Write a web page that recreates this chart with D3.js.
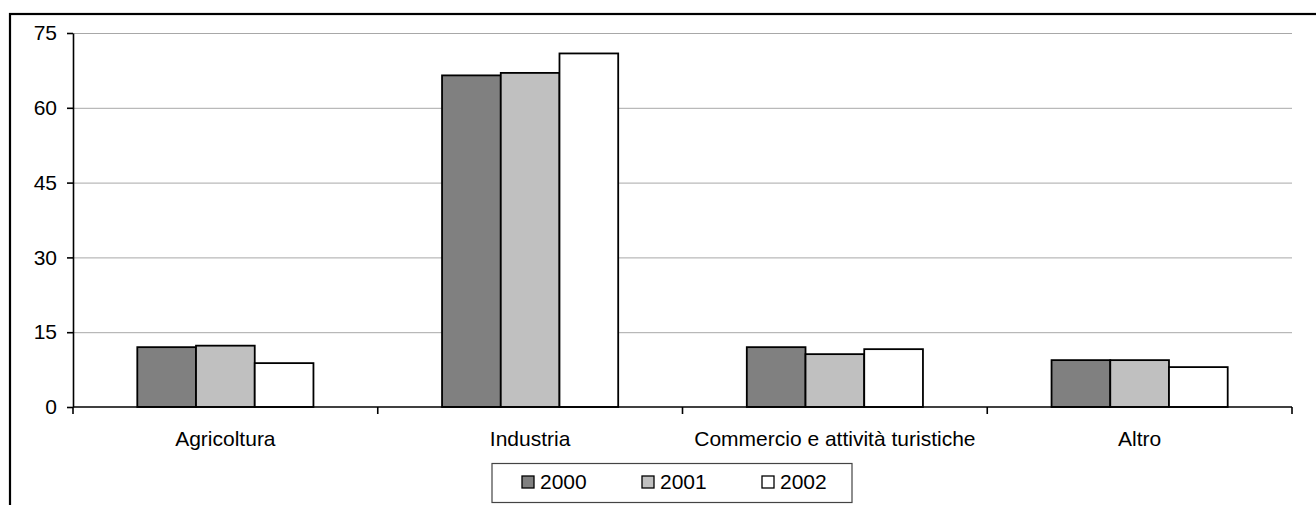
<!DOCTYPE html>
<html>
<head>
<meta charset="utf-8">
<script src="https://cdn.jsdelivr.net/npm/d3@7"></script>
<style>
    body { margin: 0; background: #ffffff; }
    svg  { display: block; font-family: "Liberation Sans", Arial, sans-serif; }
    .axis text { font-size: 21px; fill: #000000; }
    .axis path, .axis line { stroke: #000000; stroke-width: 1.6px; }
    .grid line { stroke: #a8a8a8; stroke-width: 1px; }
    .legendLabel { font-size: 21px; }
</style>
</head>
<body>
<div id="graph"></div>
<script>
//
// Data...
//
var categories = [ 'Agricoltura', 'Industria', 'Commercio e attività turistiche', 'Altro' ];
var years      = [ '2000', '2001', '2002' ];
var values2000 = [ 12.0, 66.5, 12.0, 9.4 ];
var values2001 = [ 12.3, 67.0, 10.6, 9.4 ];
var values2002 = [  8.8, 70.9, 11.6, 8.0 ];
var yTicks     = [ 0, 15, 30, 45, 60, 75 ];

var seriesValues = [ values2000, values2001, values2002 ];
var barColours   = [ '#808080', '#c0c0c0', '#ffffff' ];

//
// D3 Stuff...
//
var width  = 1316;
var height = 505;

var plot = { left: 73, right: 1292, top: 33, bottom: 407 };

var svg = d3.select ('div#graph')
            .append ('svg')
            .attr ('width', width)
            .attr ('height', height);

// outer frame, cut off at the right and bottom edge
svg.append ('rect')
   .attr ('x', 10)
   .attr ('y', 14)
   .attr ('width', 1400)
   .attr ('height', 600)
   .attr ('fill', 'none')
   .attr ('stroke', '#000000')
   .attr ('stroke-width', 2.2);

var xScale = d3.scaleBand ()
               .domain (categories)
               .range ([plot.left, plot.right])
               .padding (0);

var groupPad = 0.211 * xScale.bandwidth ();

var xInner = d3.scaleBand ()
               .domain (years)
               .range ([groupPad, xScale.bandwidth () - groupPad])
               .padding (0);

var yScale = d3.scaleLinear ()
               .domain ([0, 75])
               .range ([plot.bottom, plot.top]);

// gridlines
svg.append ('g')
   .attr ('class', 'grid')
   .selectAll ('line')
   .data (yTicks.filter (d => d > 0))
   .enter ()
   .append ('line')
   .attr ('x1', plot.left)
   .attr ('x2', plot.right)
   .attr ('y1', d => yScale (d) + 0.5)
   .attr ('y2', d => yScale (d) + 0.5);

// bars
for (var s = 0; s < years.length; s++)
{
    svg.append ('g')
       .selectAll ('rect')
       .data (seriesValues[s])
       .enter ()
       .append ('rect')
       .attr ('x', (d, i) => xScale (categories[i]) + xInner (years[s]))
       .attr ('y', d => yScale (d))
       .attr ('width', xInner.bandwidth ())
       .attr ('height', d => yScale (0) - yScale (d))
       .attr ('fill', barColours[s])
       .attr ('stroke', '#000000')
       .attr ('stroke-width', 1.8);
}

// Y axis
var yAxis = d3.axisLeft (yScale)
              .tickValues (yTicks)
              .tickSize (6)
              .tickPadding (10)
              .tickSizeOuter (0);

svg.append ('g')
   .attr ('class', 'y axis')
   .attr ('transform', 'translate(' + plot.left + ',0)')
   .call (yAxis);

// X axis: ticks sit on the category boundaries
var boundaries = categories.map (c => xScale (c)).concat ([plot.right]);

var xAxisG = svg.append ('g')
                .attr ('class', 'x axis');

xAxisG.append ('path')
      .attr ('d', 'M' + plot.left + ',' + yScale (0) + 'H' + plot.right);

xAxisG.selectAll ('line')
      .data (boundaries)
      .enter ()
      .append ('line')
      .attr ('x1', d => d)
      .attr ('x2', d => d)
      .attr ('y1', yScale (0))
      .attr ('y2', yScale (0) + 7);

xAxisG.selectAll ('text')
      .data (categories)
      .enter ()
      .append ('text')
      .attr ('x', d => xScale (d) + xScale.bandwidth () / 2)
      .attr ('y', 446)
      .style ('text-anchor', 'middle')
      .text (d => d);

//
// Legend...
//
var legend = svg.append ('g');

legend.append ('rect')
      .attr ('x', 492)
      .attr ('y', 463.5)
      .attr ('width', 360)
      .attr ('height', 39)
      .attr ('fill', '#ffffff')
      .attr ('stroke', '#444444')
      .attr ('stroke-width', 1.2);

for (var i = 0; i < years.length; i++)
{
    var lx = 540 + 120 * i;

    legend.append ('rect')
          .attr ('x', lx - 18)
          .attr ('y', 476)
          .attr ('width', 12)
          .attr ('height', 12)
          .attr ('fill', barColours[i])
          .attr ('stroke', '#000000')
          .attr ('stroke-width', 1.3);

    legend.append ('text')
          .attr ('class', 'legendLabel')
          .attr ('x', lx)
          .attr ('y', 489)
          .text (years[i]);
}
</script>
</body>
</html>
